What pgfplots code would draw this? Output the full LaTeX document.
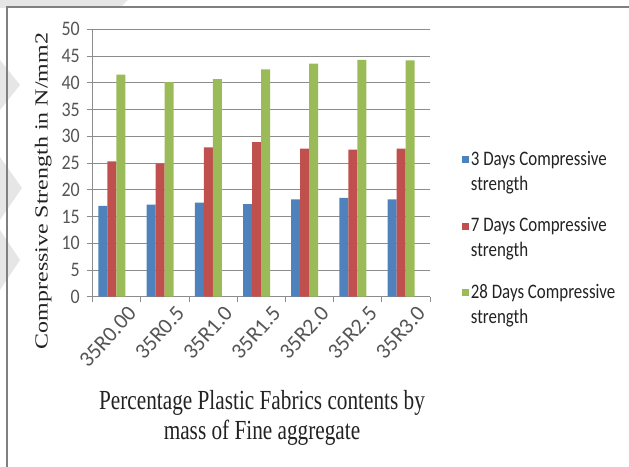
\documentclass[border=0pt]{standalone}
\usepackage{pgfplots}
\pgfplotsset{compat=1.18}
\usepackage{pgfplotstable}
\usepackage{fontspec}
\setmainfont{Liberation Serif}
\newfontfamily\labelfont{Liberation Serif}[FakeStretch=0.77]
\newfontfamily\ylabelfont{Liberation Serif}[FakeStretch=1.3]
\newfontfamily\calibri{Carlito}
\newfontfamily\legendfont{Carlito}[FakeStretch=0.82]

\definecolor{barblue}{HTML}{4F81BD}
\definecolor{barred}{HTML}{C0504D}
\definecolor{bargreen}{HTML}{9BBB59}
\definecolor{gridgray}{HTML}{8C8C8C}
\definecolor{ticktext}{HTML}{555555}
\definecolor{labeltext}{HTML}{222222}
\definecolor{framegray}{HTML}{808080}
\definecolor{wmgray}{HTML}{E6E6E6}

% Compressive strength (N/mm2) after 3, 7 and 28 days
\pgfplotstableread{
idx d3   d7   d28
0   17.0 25.3 41.5
1   17.2 24.9 40.1
2   17.6 27.9 40.7
3   17.3 28.9 42.5
4   18.2 27.7 43.6
5   18.5 27.5 44.3
6   18.2 27.7 44.2
}\strength

\begin{document}
\begin{tikzpicture}[x=1bp,y=1bp]
% light background shapes on the left margin
\fill[wmgray] (0,467) -- (128,467) -- (120,459) -- (0,459) -- cycle;
\fill[wmgray] (0,407) -- (20,382) -- (0,357) -- cycle;
\fill[wmgray] (0,310) -- (22,279) -- (0,247) -- cycle;
\fill[wmgray] (0,237) -- (20,207) -- (0,177) -- cycle;
% chart frame
\draw[framegray, line width=2bp] (7,0) -- (7,460) -- (629,460);

\begin{axis}[
  at={(92.7bp,170.3bp)}, anchor=south west,
  scale only axis, width=337.3bp, height=267.4bp,
  xmin=-0.4, xmax=6.6, ymin=0, ymax=50,
  ytick={0,5,...,50},
  xtick={0,1,2,3,4,5,6},
  xticklabels={35R0.00,35R0.5,35R1.0,35R1.5,35R2.0,35R2.5,35R3.0},
  minor xtick={-0.4,0.6,1.6,2.6,3.6,4.6,5.6,6.6},
  major x tick style={draw=none},
  tick align=outside,
  major tick length=5.5bp, minor tick length=5.5bp,
  axis x line*=bottom, axis y line*=left,
  axis line style={gridgray, line width=0.9bp, -},
  every tick/.style={gridgray, line width=0.9bp},
  ymajorgrids, major grid style={gridgray, line width=0.9bp},
  /pgf/number format/assume math mode=true,
  yticklabel style={font=\calibri\fontsize{18}{20}\selectfont, text=ticktext,
    yscale=1.15, anchor=east, xshift=-4bp},
  xticklabel style={font=\calibri\fontsize{22}{24}\selectfont, text=ticktext,
    rotate=48, anchor=east, inner sep=0pt, xshift=8bp, yshift=-20bp},
  xlabel={Percentage Plastic Fabrics contents by\\mass of Fine aggregate},
  xlabel style={at={(rel axis cs:0.502,-0.454)}, anchor=center, align=center,
    font=\labelfont\fontsize{27.7}{30}\selectfont, text=labeltext},
  ylabel={Compressive Strength in N/mm2},
  ylabel style={at={(rel axis cs:-0.147,0.395)}, anchor=center,
    font=\ylabelfont\fontsize{18.5}{20}\selectfont, text=labeltext},
  legend style={at={(rel axis cs:1.085,0.56)}, anchor=north west,
    draw=none, fill=none, row sep=22bp,
    font=\legendfont\fontsize{20.7}{25}\selectfont, text=labeltext,
    cells={align=left, anchor=west}},
  legend image code/.code={\fill[#1] (0bp,8.5bp) rectangle (7bp,15.5bp);},
]
\addplot[ybar, bar width=0.187, bar shift=-0.187, fill=barblue, draw=none]
  table[x=idx, y=d3] {\strength};
\addlegendentry{3 Days Compressive\\strength}
\addplot[ybar, bar width=0.187, bar shift=0, fill=barred, draw=none]
  table[x=idx, y=d7] {\strength};
\addlegendentry{7 Days Compressive\\strength}
\addplot[ybar, bar width=0.187, bar shift=0.187, fill=bargreen, draw=none]
  table[x=idx, y=d28] {\strength};
\addlegendentry{28 Days Compressive\\strength}
\end{axis}
% the page is exactly the chart area
\pgfresetboundingbox
\useasboundingbox (0,0) rectangle (629,467);
\end{tikzpicture}
\end{document}
